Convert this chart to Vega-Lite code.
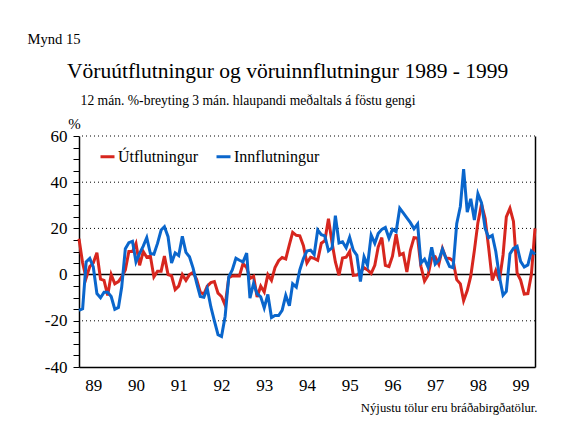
{
  "$schema": "https://vega.github.io/schema/vega-lite/v6.json",
  "width": 456,
  "height": 231,
  "autosize": "none",
  "padding": {"left": 79, "top": 136, "right": 28, "bottom": 60},
  "background": "white",
  "title": {
    "text": "Vöruútflutningur og vöruinnflutningur 1989 - 1999",
    "subtitle": "\u200b\u00a0\u00a0\u00a0\u00a012 mán. %-breyting 3 mán. hlaupandi meðaltals á föstu gengi",
    "anchor": "start",
    "frame": "group",
    "dx": -12,
    "dy": 85,
    "offset": 8,
    "fontSize": 21.5,
    "subtitleFontSize": 13.6,
    "font": "Liberation Serif",
    "subtitleFont": "Liberation Serif",
    "fontWeight": 400,
    "subtitleFontWeight": 400,
    "color": "black",
    "subtitleColor": "black",
    "subtitlePadding": 12
  },
  "resolve": {"axis": {"y": "independent"}},
  "layer": [
    {
      "data": {"values": [{"g": 60}, {"g": 40}, {"g": 20}, {"g": -20}]},
      "mark": {"type": "rule", "strokeDash": [1, 3], "color": "black", "strokeWidth": 1},
      "encoding": {
        "y": {"field": "g", "type": "quantitative", "scale": {"domain": [-40, 60], "nice": false}, "axis": null}
      }
    },
    {
      "data": {"values": [{"g": 0}]},
      "mark": {"type": "rule", "color": "black", "strokeWidth": 1.5},
      "encoding": {
        "y": {
          "field": "g", "type": "quantitative",
          "axis": {
            "orient": "right", "labels": false, "ticks": false, "grid": false,
            "domain": true, "domainColor": "black", "domainWidth": 1.5,
            "title": "Mynd 15", "titleAngle": 0, "titleX": -508, "titleY": -93,
            "titleAlign": "left", "titleBaseline": "alphabetic", "titleFont": "Liberation Serif",
            "titleFontSize": 14.6, "titleFontWeight": "normal", "titleColor": "black"
          }
        }
      }
    },
    {
      "data": {
        "format": {"parse": {"d": "utc:'%Y-%m'"}},
        "values": [
          {"d": "1989-03", "Útflutningur": 15.5, "Innflutningur": -15.5},
          {"d": "1989-04", "Útflutningur": 5, "Innflutningur": -14.8},
          {"d": "1989-05", "Útflutningur": -1.5, "Innflutningur": 5.5},
          {"d": "1989-06", "Útflutningur": 3.5, "Innflutningur": 7},
          {"d": "1989-07", "Útflutningur": 5, "Innflutningur": 3.3},
          {"d": "1989-08", "Útflutningur": 9.5, "Innflutningur": -8.2},
          {"d": "1989-09", "Útflutningur": -2, "Innflutningur": -10},
          {"d": "1989-10", "Útflutningur": -2.5, "Innflutningur": -7.6},
          {"d": "1989-11", "Útflutningur": -9, "Innflutningur": -7.6},
          {"d": "1989-12", "Útflutningur": 0, "Innflutningur": -9.5},
          {"d": "1990-01", "Útflutningur": -4, "Innflutningur": -15},
          {"d": "1990-02", "Útflutningur": -3, "Innflutningur": -14.2},
          {"d": "1990-03", "Útflutningur": -1, "Innflutningur": -5.4},
          {"d": "1990-04", "Útflutningur": 2, "Innflutningur": 11.2},
          {"d": "1990-05", "Útflutningur": 10, "Innflutningur": 13.8},
          {"d": "1990-06", "Útflutningur": 10, "Innflutningur": 14.4},
          {"d": "1990-07", "Útflutningur": 13.5, "Innflutningur": 5.5},
          {"d": "1990-08", "Útflutningur": 4, "Innflutningur": 9.2},
          {"d": "1990-09", "Útflutningur": 10, "Innflutningur": 12.3},
          {"d": "1990-10", "Útflutningur": 7.5, "Innflutningur": 16},
          {"d": "1990-11", "Útflutningur": 8, "Innflutningur": 9.1},
          {"d": "1990-12", "Útflutningur": -1, "Innflutningur": 8.8},
          {"d": "1991-01", "Útflutningur": 1.5, "Innflutningur": 13.5},
          {"d": "1991-02", "Útflutningur": 1.5, "Innflutningur": 19.3},
          {"d": "1991-03", "Útflutningur": 8, "Innflutningur": 20.7},
          {"d": "1991-04", "Útflutningur": 0, "Innflutningur": 16.4},
          {"d": "1991-05", "Útflutningur": -0.5, "Innflutningur": 5},
          {"d": "1991-06", "Útflutningur": -6.5, "Innflutningur": 9.4},
          {"d": "1991-07", "Útflutningur": -5, "Innflutningur": 8.2},
          {"d": "1991-08", "Útflutningur": 0, "Innflutningur": 16.6},
          {"d": "1991-09", "Útflutningur": -2.5, "Innflutningur": 9.6},
          {"d": "1991-10", "Útflutningur": 0, "Innflutningur": 7.7},
          {"d": "1991-11", "Útflutningur": 1, "Innflutningur": 2.8},
          {"d": "1991-12", "Útflutningur": -2, "Innflutningur": -3.6},
          {"d": "1992-01", "Útflutningur": -7.5, "Innflutningur": -9.5},
          {"d": "1992-02", "Útflutningur": -8.5, "Innflutningur": -9.8},
          {"d": "1992-03", "Útflutningur": -5, "Innflutningur": -6},
          {"d": "1992-04", "Útflutningur": -3.5, "Innflutningur": -14},
          {"d": "1992-05", "Útflutningur": -3, "Innflutningur": -20},
          {"d": "1992-06", "Útflutningur": -8, "Innflutningur": -26},
          {"d": "1992-07", "Útflutningur": -9.5, "Innflutningur": -26.8},
          {"d": "1992-08", "Útflutningur": -13.3, "Innflutningur": -18},
          {"d": "1992-09", "Útflutningur": -1.3, "Innflutningur": -1},
          {"d": "1992-10", "Útflutningur": -0.6, "Innflutningur": 2},
          {"d": "1992-11", "Útflutningur": -0.5, "Innflutningur": 7.1},
          {"d": "1992-12", "Útflutningur": -0.6, "Innflutningur": 6.2},
          {"d": "1993-01", "Útflutningur": 4.8, "Innflutningur": 5.5},
          {"d": "1993-02", "Útflutningur": 3, "Innflutningur": 9.3},
          {"d": "1993-03", "Útflutningur": -1.7, "Innflutningur": -10.2},
          {"d": "1993-04", "Útflutningur": -0.7, "Innflutningur": -3.8},
          {"d": "1993-05", "Útflutningur": -9.7, "Innflutningur": -8.3},
          {"d": "1993-06", "Útflutningur": -5, "Innflutningur": -9.6},
          {"d": "1993-07", "Útflutningur": -7.5, "Innflutningur": -14.4},
          {"d": "1993-08", "Útflutningur": 0, "Innflutningur": -8.6},
          {"d": "1993-09", "Útflutningur": -2.5, "Innflutningur": -18.6},
          {"d": "1993-10", "Útflutningur": 3, "Innflutningur": -17.7},
          {"d": "1993-11", "Útflutningur": 6, "Innflutningur": -17.7},
          {"d": "1993-12", "Útflutningur": 7.4, "Innflutningur": -15.5},
          {"d": "1994-01", "Útflutningur": 6.8, "Innflutningur": -9},
          {"d": "1994-02", "Útflutningur": 13, "Innflutningur": -13.5},
          {"d": "1994-03", "Útflutningur": 18.3, "Innflutningur": -4},
          {"d": "1994-04", "Útflutningur": 17, "Innflutningur": -5.4},
          {"d": "1994-05", "Útflutningur": 16.8, "Innflutningur": 2},
          {"d": "1994-06", "Útflutningur": 12.5, "Innflutningur": 7},
          {"d": "1994-07", "Útflutningur": 5, "Innflutningur": 10.2},
          {"d": "1994-08", "Útflutningur": 7.5, "Innflutningur": 10.6},
          {"d": "1994-09", "Útflutningur": 7, "Innflutningur": 8.7},
          {"d": "1994-10", "Útflutningur": 6.2, "Innflutningur": 19.3},
          {"d": "1994-11", "Útflutningur": 13.6, "Innflutningur": 17.3},
          {"d": "1994-12", "Útflutningur": 14.7, "Innflutningur": 16.8},
          {"d": "1995-01", "Útflutningur": 24.2, "Innflutningur": 10.3},
          {"d": "1995-02", "Útflutningur": 13.7, "Innflutningur": 11.6},
          {"d": "1995-03", "Útflutningur": 5.5, "Innflutningur": 25.5},
          {"d": "1995-04", "Útflutningur": -0.3, "Innflutningur": 13.7},
          {"d": "1995-05", "Útflutningur": 7.2, "Innflutningur": 14.2},
          {"d": "1995-06", "Útflutningur": 7.5, "Innflutningur": 11.6},
          {"d": "1995-07", "Útflutningur": 10, "Innflutningur": 16.1},
          {"d": "1995-08", "Útflutningur": -0.3, "Innflutningur": 10.6},
          {"d": "1995-09", "Útflutningur": -0.2, "Innflutningur": 8.3},
          {"d": "1995-10", "Útflutningur": 1, "Innflutningur": -3},
          {"d": "1995-11", "Útflutningur": 3, "Innflutningur": 7.7},
          {"d": "1995-12", "Útflutningur": 2, "Innflutningur": 4},
          {"d": "1996-01", "Útflutningur": 0.5, "Innflutningur": 17.1},
          {"d": "1996-02", "Útflutningur": 4, "Innflutningur": 13.5},
          {"d": "1996-03", "Útflutningur": 12, "Innflutningur": 17.8},
          {"d": "1996-04", "Útflutningur": 16, "Innflutningur": 19.6},
          {"d": "1996-05", "Útflutningur": 4, "Innflutningur": 20.4},
          {"d": "1996-06", "Útflutningur": 3.5, "Innflutningur": 15.8},
          {"d": "1996-07", "Útflutningur": 8, "Innflutningur": 19.6},
          {"d": "1996-08", "Útflutningur": 17.5, "Innflutningur": 18.6},
          {"d": "1996-09", "Útflutningur": 8.5, "Innflutningur": 28.7},
          {"d": "1996-10", "Útflutningur": 9.2, "Innflutningur": 26.7},
          {"d": "1996-11", "Útflutningur": 1.1, "Innflutningur": 24.6},
          {"d": "1996-12", "Útflutningur": 10.5, "Innflutningur": 22.5},
          {"d": "1997-01", "Útflutningur": 16, "Innflutningur": 19.8},
          {"d": "1997-02", "Útflutningur": 15.8, "Innflutningur": 21.9},
          {"d": "1997-03", "Útflutningur": 3.6, "Innflutningur": 5},
          {"d": "1997-04", "Útflutningur": -2.8, "Innflutningur": 6.7},
          {"d": "1997-05", "Útflutningur": -0.3, "Innflutningur": 3.2},
          {"d": "1997-06", "Útflutningur": 7.2, "Innflutningur": 11.8},
          {"d": "1997-07", "Útflutningur": 7.7, "Innflutningur": 4.5},
          {"d": "1997-08", "Útflutningur": 4.5, "Innflutningur": 6.2},
          {"d": "1997-09", "Útflutningur": 11.3, "Innflutningur": 11},
          {"d": "1997-10", "Útflutningur": 7.2, "Innflutningur": 7},
          {"d": "1997-11", "Útflutningur": 7, "Innflutningur": 3.5},
          {"d": "1997-12", "Útflutningur": 6, "Innflutningur": 3},
          {"d": "1998-01", "Útflutningur": -2.2, "Innflutningur": 22},
          {"d": "1998-02", "Útflutningur": -4, "Innflutningur": 29.5},
          {"d": "1998-03", "Útflutningur": -11.3, "Innflutningur": 45.7},
          {"d": "1998-04", "Útflutningur": -6.9, "Innflutningur": 27},
          {"d": "1998-05", "Útflutningur": -0.7, "Innflutningur": 32.8},
          {"d": "1998-06", "Útflutningur": 10.5, "Innflutningur": 23.6},
          {"d": "1998-07", "Útflutningur": 22.5, "Innflutningur": 35},
          {"d": "1998-08", "Útflutningur": 30.5, "Innflutningur": 31},
          {"d": "1998-09", "Útflutningur": 24.3, "Innflutningur": 20},
          {"d": "1998-10", "Útflutningur": 11.6, "Innflutningur": 16},
          {"d": "1998-11", "Útflutningur": -2.5, "Innflutningur": 17},
          {"d": "1998-12", "Útflutningur": 1.7, "Innflutningur": 10},
          {"d": "1999-01", "Útflutningur": -2.6, "Innflutningur": -1},
          {"d": "1999-02", "Útflutningur": 8.5, "Innflutningur": -8.9},
          {"d": "1999-03", "Útflutningur": 25, "Innflutningur": -7.3},
          {"d": "1999-04", "Útflutningur": 28.7, "Innflutningur": 9},
          {"d": "1999-05", "Útflutningur": 23, "Innflutningur": 11.3},
          {"d": "1999-06", "Útflutningur": 0.7, "Innflutningur": 12.2},
          {"d": "1999-07", "Útflutningur": -2.4, "Innflutningur": 5.7},
          {"d": "1999-08", "Útflutningur": -8.4, "Innflutningur": 3.3},
          {"d": "1999-09", "Útflutningur": -8.2, "Innflutningur": 4.2},
          {"d": "1999-10", "Útflutningur": 0, "Innflutningur": 10.2},
          {"d": "1999-11", "Útflutningur": 20, "Innflutningur": 8.8}
        ]
      },
      "transform": [{"fold": ["Útflutningur", "Innflutningur"], "as": ["series", "value"]}],
      "mark": {"type": "line", "strokeWidth": 3, "strokeJoin": "miter"},
      "encoding": {
        "x": {
          "field": "d", "type": "temporal",
          "scale": {"type": "utc", "domain": [{"year": 1989, "month": 3, "date": 1, "utc": true}, {"year": 1999, "month": 11, "date": 1, "utc": true}]},
          "axis": {
            "values": [
              {"year": 1989, "month": 7, "date": 1, "utc": true},
              {"year": 1990, "month": 7, "date": 1, "utc": true},
              {"year": 1991, "month": 7, "date": 1, "utc": true},
              {"year": 1992, "month": 7, "date": 1, "utc": true},
              {"year": 1993, "month": 7, "date": 1, "utc": true},
              {"year": 1994, "month": 7, "date": 1, "utc": true},
              {"year": 1995, "month": 7, "date": 1, "utc": true},
              {"year": 1996, "month": 7, "date": 1, "utc": true},
              {"year": 1997, "month": 7, "date": 1, "utc": true},
              {"year": 1998, "month": 7, "date": 1, "utc": true},
              {"year": 1999, "month": 7, "date": 1, "utc": true}
            ],
            "labelExpr": "utcFormat(datum.value, '%y')",
            "ticks": false, "tickSize": 0, "grid": false,
            "domainColor": "black", "domainWidth": 1.5,
            "labelFont": "Liberation Serif",
            "labelFontSize": 17, "labelColor": "black", "labelPadding": 10,
            "title": "Nýjustu tölur eru bráðabirgðatölur.",
            "titleX": 458, "titleY": 44, "titleAlign": "right", "titleBaseline": "alphabetic",
            "titleFont": "Liberation Serif",
            "titleFontSize": 12.7, "titleFontWeight": "normal", "titleColor": "black"
          }
        },
        "y": {
          "field": "value", "type": "quantitative",
          "axis": {
            "values": [-40, -35, -30, -25, -20, -15, -10, -5, 0, 5, 10, 15, 20, 25, 30, 35, 40, 45, 50, 55, 60],
            "labelExpr": "datum.value % 20 === 0 ? '' + datum.value : ''",
            "grid": false, "domainColor": "black", "domainWidth": 1.5,
            "tickColor": "black", "tickSize": 6, "tickWidth": 1,
            "labelFont": "Liberation Serif",
            "labelFontSize": 17, "labelColor": "black", "labelPadding": 6,
            "title": "%", "titleAngle": 0, "titleX": -5, "titleY": -8,
            "titleAlign": "center", "titleBaseline": "alphabetic",
            "titleFont": "Liberation Serif",
            "titleFontSize": 15, "titleFontWeight": "normal", "titleColor": "black"
          }
        },
        "color": {
          "field": "series", "type": "nominal",
          "scale": {"domain": ["Útflutningur", "Innflutningur"], "range": ["#d7261e", "#0a66cc"]},
          "legend": {
            "orient": "none", "legendX": 20, "legendY": 12, "direction": "horizontal",
            "title": null, "symbolType": "stroke", "symbolStrokeWidth": 3, "symbolSize": 196,
            "labelFont": "Liberation Serif",
            "labelFontSize": 16, "labelColor": "black", "labelOffset": 2,
            "columnPadding": 12, "padding": 0
          }
        }
      }
    }
  ],
  "config": {
    "font": "Liberation Serif",
    "view": {"stroke": null},
    "axis": {"labelFont": "Liberation Serif", "titleFont": "Liberation Serif"},
    "legend": {"labelFont": "Liberation Serif"}
  }
}
